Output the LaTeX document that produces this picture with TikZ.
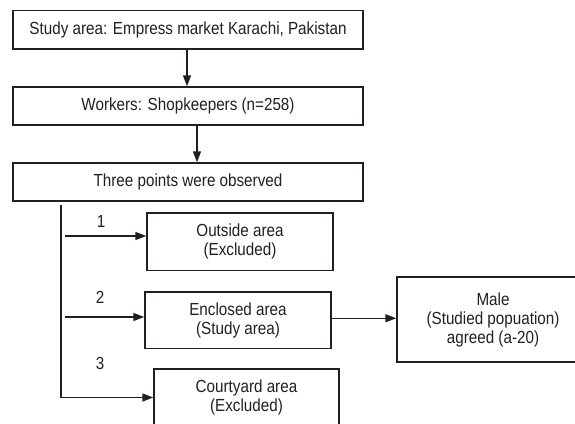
\documentclass[tikz,border=0pt]{standalone}
\usepackage{fontspec}
\setmainfont{Liberation Sans}[FakeStretch=0.87]
\usetikzlibrary{arrows.meta}
\definecolor{ink}{HTML}{231F20}
\begin{document}
\begin{tikzpicture}[x=1pt,y=-1pt,
  box/.style={draw=ink, line width=1.4pt, inner sep=0pt, align=center,
    text=ink, font=\fontsize{17.5}{19}\selectfont},
  lbl/.style={text=ink, inner sep=0pt, font=\fontsize{17.5}{19}\selectfont},
  conn/.style={draw=ink, line width=1.4pt},
  arr/.style={conn, -{Triangle[length=11pt,width=8pt]}}]
\useasboundingbox (0,0) rectangle (575,423);
\clip (0,0) rectangle (575,423);
\node[box, minimum width=350pt, minimum height=38.5pt] (b1) at (188,29.75)
  {Study area: Empress market Karachi, Pakistan};
\node[box, minimum width=350pt, minimum height=38pt] (b2) at (188,106)
  {Workers: Shopkeepers (n=258)};
\node[box, minimum width=350pt, minimum height=38pt] (b3) at (188,182)
  {Three points were observed};
\node[box, minimum width=186pt, minimum height=57.5pt] (out) at (240,241.75)
  {Outside area\\(Excluded)};
\node[box, minimum width=186pt, minimum height=56.5pt] (encl) at (238,320.25)
  {Enclosed area\\(Study area)};
\node[box, minimum width=185pt, minimum height=57pt] (court) at (246.5,397.5)
  {Courtyard area\\(Excluded)};
\node[box, minimum width=192pt, minimum height=85pt] (male) at (493,319.5)
  {Male\\(Studied popuation)\\agreed (a-20)};
\node[lbl] (l1) at (101,221) {1};
\node[lbl] (l2) at (100,297) {2};
\node[lbl] (l3) at (100,363) {3};
\draw[arr] ([xshift=-1pt]b1.south) -- ([xshift=-1pt]b1.south |- b2.north);
\draw[arr] ([xshift=9pt]b2.south) -- ([xshift=9pt]b2.south |- b3.north);
\coordinate (t0) at (61,205);
\draw[arr] (t0) |- (court.west);
\coordinate (br1) at (65,236);
\coordinate (br2) at (65,317);
\draw[arr] (br1) -- (br1 -| out.west);
\draw[arr] (br2) -- (br2 -| encl.west);
\draw[arr] ([yshift=2pt]encl.east) -- ([yshift=2pt]encl.east -| male.west);
\end{tikzpicture}
\end{document}
